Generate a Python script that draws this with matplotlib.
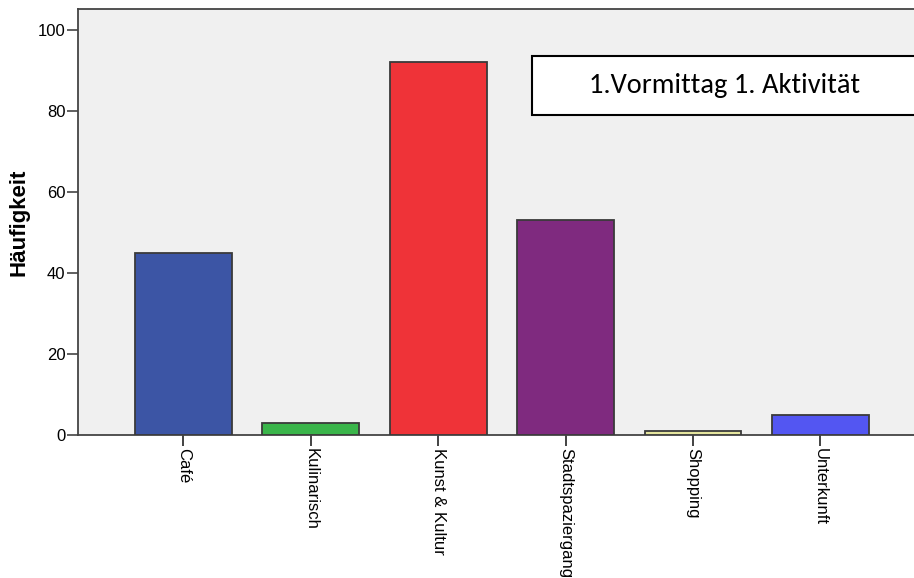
import matplotlib
matplotlib.use("Agg")
import matplotlib.pyplot as plt
from matplotlib.patches import Rectangle

categories = ["Café", "Kulinarisch", "Kunst & Kultur", "Stadtspaziergang", "Shopping", "Unterkunft"]
counts = [45, 3, 92, 53, 1, 5]
bar_colors = ["#3c55a5", "#3ab54a", "#ef3338", "#7f2a7f", "#e5e59e", "#5356f2"]
yticks = [0, 20, 40, 60, 80, 100]
box_text = "1.Vormittag 1. Aktivität"

plt.rcParams["font.family"] = ["Liberation Sans", "DejaVu Sans"]

fig = plt.figure(figsize=(9.14, 5.78), dpi=100)
ax = fig.add_axes([0.0853, 0.2474, 1.0 - 0.0853, 0.9844 - 0.2474])
ax.set_facecolor("#f0f0f0")

x = range(len(categories))
ax.bar(x, counts, width=0.76, color=bar_colors, edgecolor="#3a3a3a", linewidth=1.3, zorder=3)

ax.set_xlim(-0.828, 5.734)
ax.set_ylim(0, 105.2)
ax.set_yticks(yticks)
ax.set_xticks(list(x))
ax.set_xticklabels(categories, rotation=-90, fontsize=12)
ax.tick_params(axis="y", labelsize=12, length=8, width=1.2, color="#444444", pad=1)
ax.tick_params(axis="x", length=8, width=1.2, color="#222222", pad=1)
for lbl in ax.get_xticklabels():
    lbl.set_verticalalignment("top")
    lbl.set_horizontalalignment("center")

for side in ["left", "bottom", "top"]:
    ax.spines[side].set_color("#444444")
    ax.spines[side].set_linewidth(1.3)
ax.spines["right"].set_visible(False)

ax.set_ylabel("Häufigkeit", fontsize=16, fontweight="bold", labelpad=6)

# Textfeld oben rechts
fig.patches.append(Rectangle((0.582, 0.801), 0.45, 0.102, transform=fig.transFigure,
                             facecolor="white", edgecolor="black", linewidth=1.5, zorder=5))
fig.text(0.793, 0.852, box_text, ha="center", va="center", fontsize=20.5,
         family=["Carlito", "Lato", "DejaVu Sans"], zorder=6)

fig.savefig("out.png", dpi=100)
